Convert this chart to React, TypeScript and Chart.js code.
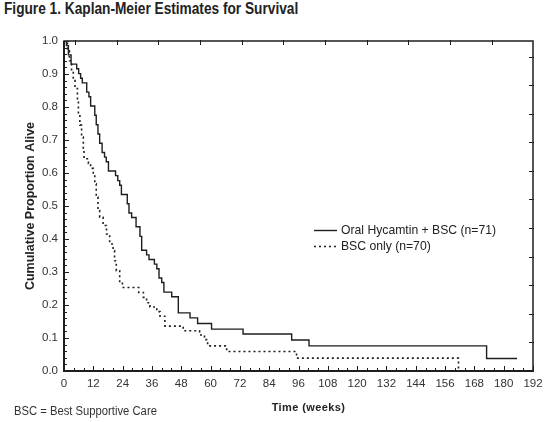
import React, { useEffect, useRef } from 'react';
import { Chart, registerables } from 'chart.js';

Chart.register(...registerables);

// ---- Data ----
const hycamtinLabel = 'Oral Hycamtin + BSC (n=71)';
const hycamtinWeeks = [0, 1.0, 1.8, 2.9, 5.2, 6.0, 6.8, 7.5, 9.3, 10.2, 10.9, 12.6, 13.2, 13.9, 14.6, 15.6, 16.6, 17.3, 18.2, 21.1, 22.0, 22.8, 23.5, 25.9, 26.6, 27.7, 29.5, 31.1, 31.8, 33.8, 34.8, 37.0, 38.0, 38.9, 40.0, 40.9, 44.1, 46.8, 51.6, 54.7, 60.4, 73.3, 93.2, 100.3, 173.0, 185.5];
const hycamtinSurvival = [1.0, 0.986, 0.958, 0.930, 0.916, 0.901, 0.887, 0.873, 0.845, 0.831, 0.803, 0.775, 0.746, 0.718, 0.690, 0.662, 0.648, 0.634, 0.606, 0.592, 0.577, 0.563, 0.535, 0.507, 0.479, 0.465, 0.437, 0.408, 0.366, 0.352, 0.338, 0.324, 0.310, 0.282, 0.268, 0.239, 0.225, 0.176, 0.161, 0.144, 0.127, 0.112, 0.094, 0.076, 0.038, 0.038];

const bscLabel = 'BSC only (n=70)';
const bscWeeks = [0, 1.4, 2.2, 3.1, 3.8, 4.5, 5.5, 5.9, 6.5, 7.2, 7.9, 8.2, 10.0, 10.9, 12.0, 12.6, 13.2, 13.9, 14.6, 16.0, 17.4, 18.7, 20.1, 20.7, 21.4, 22.8, 23.9, 30.6, 32.5, 33.8, 35.2, 38.0, 39.3, 41.3, 48.8, 55.5, 57.5, 58.8, 66.6, 95.2, 161.5];
const bscSurvival = [1.0, 0.97, 0.94, 0.91, 0.88, 0.856, 0.82, 0.78, 0.745, 0.709, 0.67, 0.643, 0.629, 0.614, 0.60, 0.567, 0.527, 0.486, 0.466, 0.441, 0.415, 0.385, 0.365, 0.334, 0.304, 0.268, 0.253, 0.238, 0.223, 0.207, 0.194, 0.180, 0.166, 0.136, 0.122, 0.109, 0.095, 0.076, 0.059, 0.039, 0.0];

const xMin = 0;
const xMax = 192;
const xLabelStep = 12;
const xMinorStep = 4;
const yMin = 0;
const yMax = 1;
const yLabelStep = 0.1;
const yMinorStep = 0.02;
// extra frame ticks on the top and right borders of the original figure
const topFrameTicks = [4.5, 21.6, 38.6, 55.7, 72.7, 89.8, 106.9, 123.9, 141.0, 158.0, 175.1];
const rightFrameTicks = [0.087, 0.173, 0.26, 0.346, 0.433, 0.52, 0.606, 0.693, 0.78, 0.866, 0.953];

const titleText = 'Figure 1. Kaplan-Meier Estimates for Survival';
const footnoteText = 'BSC = Best Supportive Care';
const xTitle = 'Time (weeks)';
const yTitle = 'Cumulative Proportion Alive';

const ink = '#1e1e1e';

function pairs(xs: number[], ys: number[]) {
  return xs.map((x, i) => ({ x, y: ys[i] }));
}

const framePlugin = {
  id: 'frameTicks',
  afterDatasetsDraw(chart: any) {
    const { ctx, chartArea } = chart;
    const xs = chart.scales.x;
    const ys = chart.scales.y;
    const { left, right, top, bottom } = chartArea;
    ctx.save();
    ctx.strokeStyle = ink;
    ctx.lineCap = 'butt';
    // frame
    ctx.lineWidth = 1.5;
    ctx.strokeRect(left, top, right - left, bottom - top);
    ctx.lineWidth = 2;
    ctx.beginPath();
    ctx.moveTo(left, top);
    ctx.lineTo(left, bottom);
    ctx.lineTo(right, bottom);
    ctx.stroke();
    // ticks
    ctx.lineWidth = 1;
    ctx.beginPath();
    const nx = Math.round((xMax - xMin) / xMinorStep);
    for (let i = 0; i <= nx; i++) {
      const v = xMin + i * xMinorStep;
      const px = Math.round(xs.getPixelForValue(v)) + 0.5;
      const major = Math.abs(v / xLabelStep - Math.round(v / xLabelStep)) < 1e-6;
      const len = major ? 5 : 3;
      ctx.moveTo(px, bottom + 1);
      ctx.lineTo(px, bottom - len);
    }
    const ny = Math.round((yMax - yMin) / yMinorStep);
    for (let i = 0; i <= ny; i++) {
      const v = yMin + i * yMinorStep;
      const py = Math.round(ys.getPixelForValue(v)) + 0.5;
      const major = Math.abs(v / yLabelStep - Math.round(v / yLabelStep)) < 1e-6;
      const len = major ? 5 : 3;
      ctx.moveTo(left - 1, py);
      ctx.lineTo(left + len, py);
    }
    topFrameTicks.forEach((v) => {
      const px = Math.round(xs.getPixelForValue(v)) + 0.5;
      ctx.moveTo(px, top - 1);
      ctx.lineTo(px, top + 4);
    });
    rightFrameTicks.forEach((v) => {
      const py = Math.round(ys.getPixelForValue(v)) + 0.5;
      ctx.moveTo(right + 1, py);
      ctx.lineTo(right - 4, py);
    });
    ctx.stroke();

    // legend inside plot
    const lx = left + (right - left) * 0.533;
    const ly = top + (bottom - top) * 0.573;
    const gap = 16;
    ctx.font = '12.2px "Liberation Sans", Arial, sans-serif';
    ctx.textBaseline = 'middle';
    ctx.fillStyle = '#222';
    chart.data.datasets.forEach((ds: any, i: number) => {
      const y = Math.round(ly + i * gap) + 0.5;
      ctx.beginPath();
      ctx.lineWidth = ds.borderWidth;
      ctx.strokeStyle = ds.borderColor;
      ctx.setLineDash(ds.borderDash || []);
      ctx.moveTo(lx, y);
      ctx.lineTo(lx + 23, y);
      ctx.stroke();
      ctx.setLineDash([]);
      ctx.fillText(ds.label, lx + 27, y);
    });

    // x-axis title (drawn slightly right of centre, as in the original)
    ctx.font = 'bold 11px "Liberation Sans", Arial, sans-serif';
    ctx.textAlign = 'center';
    ctx.textBaseline = 'middle';
    ctx.fillStyle = '#222';
    const tx = (left + right) / 2 + 10;
    (ctx as any).letterSpacing = '0.4px';
    ctx.fillText(xTitle, tx, 408);
    (ctx as any).letterSpacing = '0px';
    ctx.restore();
  },
};

export default function App() {
  const canvasRef = useRef<HTMLCanvasElement | null>(null);

  useEffect(() => {
    const canvas = canvasRef.current;
    if (!canvas) return;
    const chart = new Chart(canvas, {
      type: 'line',
      data: {
        datasets: [
          {
            label: hycamtinLabel,
            data: pairs(hycamtinWeeks, hycamtinSurvival),
            borderColor: ink,
            borderWidth: 1.4,
            stepped: true,
            pointRadius: 0,
            fill: false,
          },
          {
            label: bscLabel,
            data: pairs(bscWeeks, bscSurvival),
            borderColor: ink,
            borderWidth: 1.6,
            borderDash: [2, 3],
            stepped: true,
            pointRadius: 0,
            fill: false,
          },
        ],
      },
      options: {
        responsive: false,
        animation: false,
        layout: { padding: { left: 18, right: 25, top: 41, bottom: 8 } },
        plugins: {
          legend: { display: false },
          tooltip: { enabled: false },
          title: { display: false },
        },
        scales: {
          x: {
            type: 'linear',
            min: xMin,
            max: xMax,
            grid: { display: false, drawTicks: false },
            border: { display: false },
            ticks: {
              stepSize: xLabelStep,
              padding: 6,
              color: '#333',
              font: { family: '"Liberation Sans", Arial, sans-serif', size: 11.5 },
              maxRotation: 0,
              autoSkip: false,
            },
            title: { display: false, text: xTitle },
            afterFit: (scale: any) => {
              scale.height = 43;
            },
          },
          y: {
            type: 'linear',
            min: yMin,
            max: yMax,
            grid: { display: false, drawTicks: false },
            border: { display: false },
            ticks: {
              stepSize: yLabelStep,
              padding: 6,
              color: '#333',
              font: { family: '"Liberation Sans", Arial, sans-serif', size: 11.5 },
              callback: (v: any) => Number(v).toFixed(1),
            },
            title: {
              display: true,
              text: yTitle,
              color: '#222',
              font: { family: '"Liberation Sans", Arial, sans-serif', size: 12.5, weight: 'bold' },
              padding: { top: 5, bottom: 0 },
            },
            afterFit: (scale: any) => {
              scale.width = 46;
            },
          },
        },
      },
      plugins: [framePlugin],
    });
    return () => chart.destroy();
  }, []);

  return (
    <div style={{ position: 'fixed', left: 0, top: 0, width: 558, height: 422, background: '#fff', fontFamily: '"Liberation Sans", Arial, sans-serif' }}>
      <div
        style={{
          position: 'absolute',
          left: 4,
          top: 0,
          fontFamily: '"Liberation Sans", Arial, sans-serif',
          fontWeight: 'bold',
          fontSize: 16,
          color: '#222',
          whiteSpace: 'nowrap',
          transform: 'scaleX(0.855)',
          transformOrigin: 'left top',
        }}
      >
        {titleText}
      </div>
      <canvas ref={canvasRef} width={558} height={422} style={{ position: 'absolute', left: 0, top: 0 }} />
      <div
        style={{
          position: 'absolute',
          left: 14,
          top: 404,
          fontFamily: '"Liberation Sans", Arial, sans-serif',
          fontSize: 12.5,
          color: '#333',
          whiteSpace: 'nowrap',
          transform: 'scaleX(0.9)',
          transformOrigin: 'left top',
        }}
      >
        {footnoteText}
      </div>
    </div>
  );
}
